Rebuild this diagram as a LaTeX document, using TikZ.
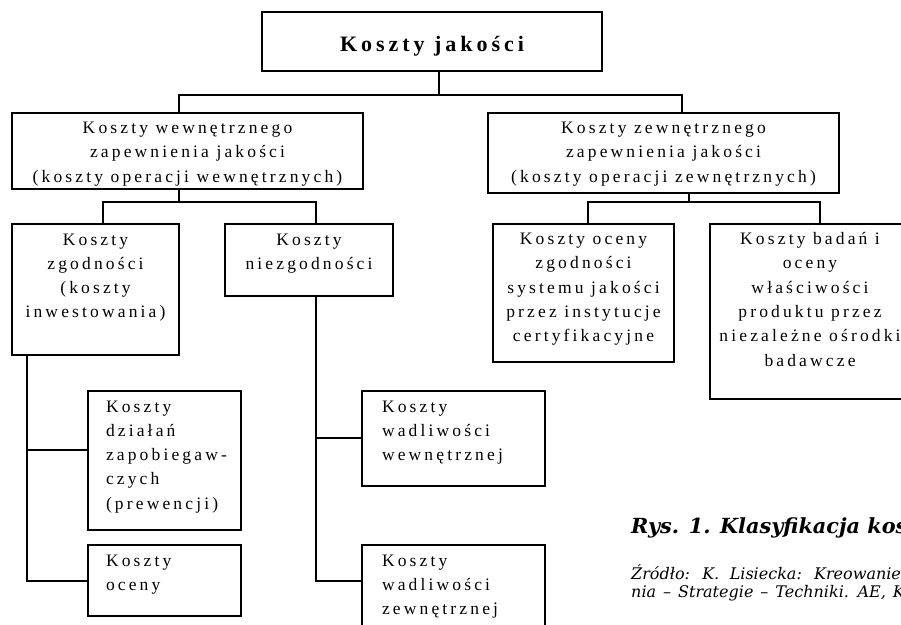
\documentclass[tikz,border=0pt]{standalone}
\usepackage{fontspec}
\setmainfont{Liberation Serif}
\newfontfamily\diagf{Liberation Serif}[LetterSpace=18,Ligatures=CommonOff]
\newfontfamily\capf{DejaVu Serif}
\newcommand\btxt[5]{\parbox[t][#2pt][t]{#1pt}{#3\baselineskip=24.3pt\rule{0pt}{#4pt}\ignorespaces#5}}
\tikzset{
  box/.style={draw, line width=1.3pt, inner sep=0pt, outer sep=0pt, anchor=north west,
    font=\diagf\fontsize{17.5}{24.3}\selectfont},
  conn/.style={line width=1.3pt},
  captxt/.style={anchor=base west, inner sep=0pt},
}
\begin{document}
\begin{tikzpicture}[x=1pt,y=-1pt]
\useasboundingbox (0,0) rectangle (901,624);
\clip (0,0) rectangle (901,624);
% boxes
\node[box, font=\diagf\bfseries\fontsize{22}{26}\selectfont] (top) at (262,12)
  {\btxt{340}{59}{\centering}{39.5}{Koszty jakości}};
\node[box] (L1) at (12,113)
  {\btxt{351}{76}{\centering}{20.5}{Koszty wewnętrznego\\zapewnienia jakości\\(koszty operacji wewnętrznych)}};
\node[box] (R1) at (488,113)
  {\btxt{351}{80}{\centering}{20.5}{Koszty zewnętrznego\\zapewnienia jakości\\(koszty operacji zewnętrznych)}};
\node[box] (Zg) at (12,224)
  {\btxt{167}{131}{\centering}{21}{Koszty\\zgodności\\(koszty\\inwestowania)}};
\node[box] (Nz) at (225,224)
  {\btxt{168}{72}{\centering}{21}{Koszty\\niezgodności}};
\node[box] (Oc) at (493,224)
  {\btxt{181}{138}{\centering}{20.5}{Koszty oceny\\zgodności\\systemu jakości\\przez instytucje\\certyfikacyjne}};
\node[box] (Bd) at (710,224)
  {\btxt{200}{175}{\centering}{20.5}{Koszty badań i\\oceny\\właściwości\\produktu przez\\niezależne ośrodki\\badawcze}};
\node[box] (Dz) at (88,391)
  {\btxt{153}{139}{\raggedright\leftskip=18pt}{21}{Koszty\\działań\\zapobiegaw-\\czych\\(prewencji)}};
\node[box] (Ocn) at (88,545)
  {\btxt{153}{71}{\raggedright\leftskip=18pt}{21}{Koszty\\oceny}};
\node[box] (Ww) at (362,391)
  {\btxt{183}{95}{\raggedright\leftskip=20pt}{21}{Koszty\\wadliwości\\wewnętrznej}};
\node[box] (Zw) at (362,545)
  {\btxt{183}{85}{\raggedright\leftskip=20pt}{21}{Koszty\\wadliwości\\zewnętrznej}};
% connectors
\coordinate (t1) at (439,95);
\coordinate (a1) at (179,95);
\coordinate (a2) at (682,95);
\draw[conn] (top.south -| t1) -- (t1);
\draw[conn] (L1.north -| a1) -- (a1) -- (a2) -- (R1.north -| a2);
\coordinate (b0) at (179,202);
\coordinate (b1) at (103,202);
\coordinate (b2) at (316,202);
\draw[conn] (L1.south -| b0) -- (b0);
\draw[conn] (Zg.north -| b1) -- (b1) -- (b2) -- (Nz.north -| b2);
\coordinate (c0) at (689,202);
\coordinate (c1) at (588,202);
\coordinate (c2) at (820,202);
\draw[conn] (R1.south -| c0) -- (c0);
\draw[conn] (Oc.north -| c1) -- (c1) -- (c2) -- (Bd.north -| c2);
\coordinate (d0) at (27,581);
\coordinate (d1) at (27,450);
\draw[conn] (Zg.south -| d0) -- (d0) -- (Ocn.west |- d0);
\draw[conn] (d1) -- (Dz.west |- d1);
\coordinate (e0) at (316,581);
\coordinate (e1) at (316,438);
\draw[conn] (Nz.south -| e0) -- (e0) -- (Zw.west |- e0);
\draw[conn] (e1) -- (Ww.west |- e1);
% caption
\node[captxt, font=\capf\bfseries\itshape\fontsize{20.8}{24}\selectfont] (cap) at (631,533)
  {Rys. 1. Klasyfikacja kosztów jakości};
\node[captxt, font=\capf\itshape\fontsize{16}{19}\selectfont] (src1) at (631,579)
  {\spaceskip=10.5pt Źródło: K. Lisiecka: Kreowanie jakości. Uwarunkowa-};
\node[captxt, font=\capf\itshape\fontsize{16}{19}\selectfont] (src2) at (631,597)
  {\spaceskip=7pt nia – Strategie – Techniki. AE, Katowice 2002.};
\end{tikzpicture}
\end{document}
